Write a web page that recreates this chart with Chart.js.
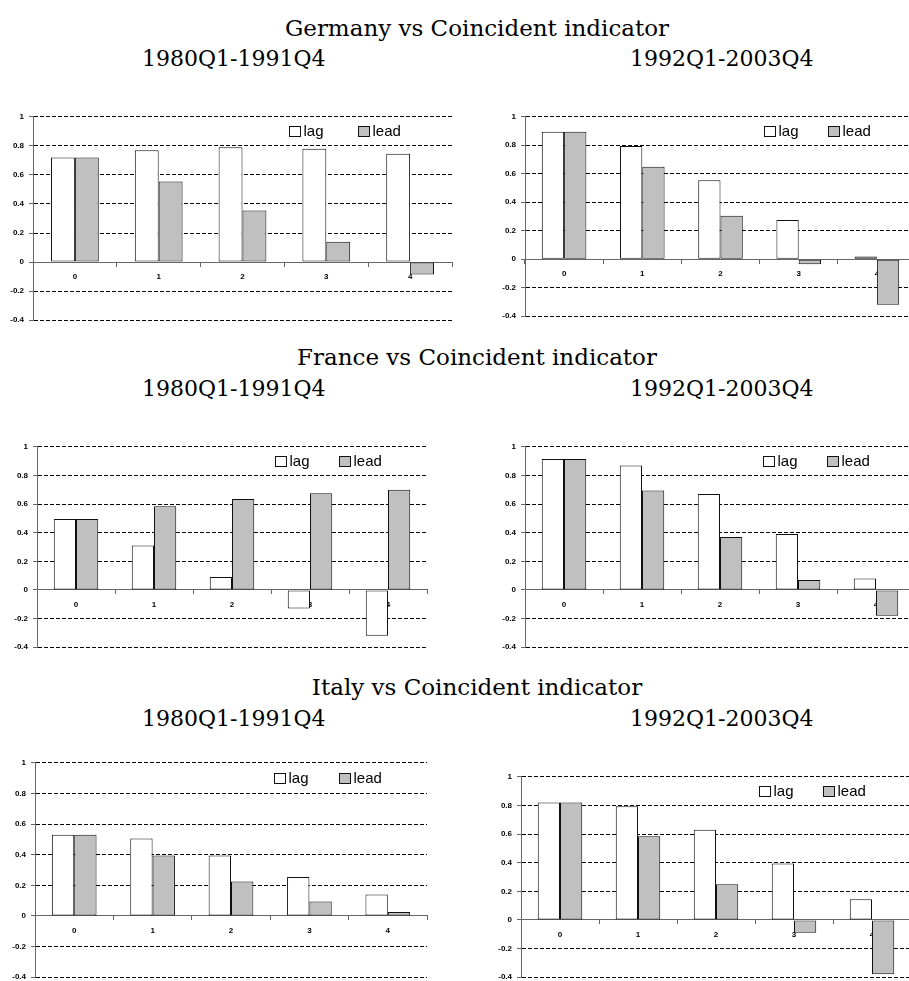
<!DOCTYPE html>
<html>
<head>
<meta charset="utf-8">
<script src="https://cdn.jsdelivr.net/npm/chart.js@4.4.1/dist/chart.umd.min.js"></script>
<style>
  html, body { margin: 0; padding: 0; background: #fff; overflow: hidden; }
  #page { position: relative; width: 909px; height: 981px; overflow: hidden; }
  .title, .sub { position: absolute; font-family: "DejaVu Serif", serif; color: #000; white-space: nowrap; }
  .title { font-size: 23px; line-height: 23px; width: 600px; left: 177px; text-align: center; }
  .sub { font-size: 22px; line-height: 22px; }
  canvas { position: absolute; }
</style>
</head>
<body>
<div id="page">
  <div class="title" style="top:17px">Germany vs Coincident indicator</div>
  <div class="sub" style="top:48px; left:142px">1980Q1-1991Q4</div>
  <div class="sub" style="top:48px; left:630px">1992Q1-2003Q4</div>

  <div class="title" style="top:346px">France vs Coincident indicator</div>
  <div class="sub" style="top:378px; left:142px">1980Q1-1991Q4</div>
  <div class="sub" style="top:378px; left:630px">1992Q1-2003Q4</div>

  <div class="title" style="top:676px">Italy vs Coincident indicator</div>
  <div class="sub" style="top:708px; left:142px">1980Q1-1991Q4</div>
  <div class="sub" style="top:708px; left:630px">1992Q1-2003Q4</div>

  <canvas id="de1" width="451" height="223" style="left:3px; top:107px"></canvas>
  <canvas id="de2" width="423" height="219" style="left:495px; top:107px"></canvas>
  <canvas id="fr1" width="422" height="220" style="left:7px; top:437px"></canvas>
  <canvas id="fr2" width="422" height="220" style="left:495px; top:437px"></canvas>
  <canvas id="it1" width="424" height="234" style="left:5px; top:753px"></canvas>
  <canvas id="it2" width="422" height="220" style="left:491px; top:767px"></canvas>
</div>
<script>
// lags / leads (quarters)
const lags = ["0", "1", "2", "3", "4"];
const seriesNames = ["lag", "lead"];
const yTickValues = [-0.4, -0.2, 0, 0.2, 0.4, 0.6, 0.8, 1];
const yTickLabels = ["-0.4", "-0.2", "0", "0.2", "0.4", "0.6", "0.8", "1"];

// Germany
const deLag1 = [0.72, 0.77, 0.79, 0.78, 0.745];
const deLead1 = [0.72, 0.555, 0.355, 0.14, -0.085];
const deLag2 = [0.895, 0.795, 0.555, 0.275, 0.02];
const deLead2 = [0.895, 0.65, 0.305, -0.035, -0.32];

// France
const frLag1 = [0.495, 0.31, 0.09, -0.13, -0.32];
const frLead1 = [0.495, 0.585, 0.635, 0.675, 0.7];
const frLag2 = [0.915, 0.87, 0.67, 0.39, 0.08];
const frLead2 = [0.915, 0.695, 0.37, 0.07, -0.18];

// Italy
const itLag1 = [0.53, 0.505, 0.395, 0.255, 0.14];
const itLead1 = [0.53, 0.395, 0.225, 0.095, 0.025];
const itLag2 = [0.82, 0.795, 0.63, 0.395, 0.145];
const itLead2 = [0.82, 0.585, 0.25, -0.09, -0.38];

const tickFont = { family: '"Liberation Sans", Arial, sans-serif', size: 8, weight: "bold" };

// legend drawn inside the plot, Excel style
const insideLegend = {
  id: "insideLegend",
  afterDatasetsDraw(chart) {
    const { ctx, chartArea } = chart;
    const y = chart.scales.y.getPixelForValue(0.9);
    const w = chartArea.right - chartArea.left;
    const spots = [0.61, 0.775];
    ctx.save();
    ctx.font = '15px "Liberation Sans", Arial, sans-serif';
    ctx.textBaseline = "middle";
    chart.data.datasets.forEach((ds, i) => {
      const x = Math.round(chartArea.left + w * spots[i]) + 0.5;
      const top = Math.round(y - 5) + 0.5;
      ctx.fillStyle = ds.backgroundColor;
      ctx.fillRect(x, top, 11, 10);
      ctx.strokeStyle = "#111";
      ctx.lineWidth = 1;
      ctx.strokeRect(x, top, 11, 10);
      ctx.fillStyle = "#000";
      ctx.fillText(ds.label, x + 14, y + 1);
    });
    ctx.restore();
  },
};

function makeChart(id, lagData, leadData) {
  return new Chart(document.getElementById(id), {
    type: "bar",
    data: {
      labels: lags,
      datasets: [
        {
          label: seriesNames[0],
          data: lagData,
          backgroundColor: "#ffffff",
          borderColor: "#111",
          borderWidth: 1,
          borderSkipped: false,
        },
        {
          label: seriesNames[1],
          data: leadData,
          backgroundColor: "#c0c0c0",
          borderColor: "#111",
          borderWidth: 1,
          borderSkipped: false,
        },
      ],
    },
    options: {
      responsive: false,
      animation: false,
      events: [],
      layout: { padding: { top: 8, bottom: 8, left: 0, right: 2 } },
      datasets: { bar: { categoryPercentage: 0.57, barPercentage: 1 } },
      plugins: { legend: { display: false }, tooltip: { enabled: false } },
      scales: {
        x: {
          position: { y: 0 },
          z: 1,
          grid: { drawOnChartArea: false, offset: true, tickLength: 4, tickColor: "#666" },
          border: { display: true, color: "#666", width: 1 },
          ticks: { color: "#000", font: tickFont, padding: 6, maxRotation: 0 },
        },
        y: {
          min: -0.4,
          max: 1,
          afterFit: (scale) => { scale.width = 30; },
          afterBuildTicks: (scale) => { scale.ticks = yTickValues.map((v) => ({ value: v })); },
          grid: {
            color: (c) => (c.tick && Math.abs(c.tick.value) < 1e-9 ? "rgba(0,0,0,0)" : "#000"),
            tickLength: 4,
            tickColor: "#666",
            tickBorderDash: [],
          },
          border: { display: true, color: "#666", width: 1, dash: [4, 2] },
          ticks: {
            color: "#000",
            font: tickFont,
            padding: 5,
            callback: (value, index) => yTickLabels[index],
          },
        },
      },
    },
    plugins: [insideLegend],
  });
}

makeChart("de1", deLag1, deLead1);
makeChart("de2", deLag2, deLead2);
makeChart("fr1", frLag1, frLead1);
makeChart("fr2", frLag2, frLead2);
makeChart("it1", itLag1, itLead1);
makeChart("it2", itLag2, itLead2);
</script>
</body>
</html>
